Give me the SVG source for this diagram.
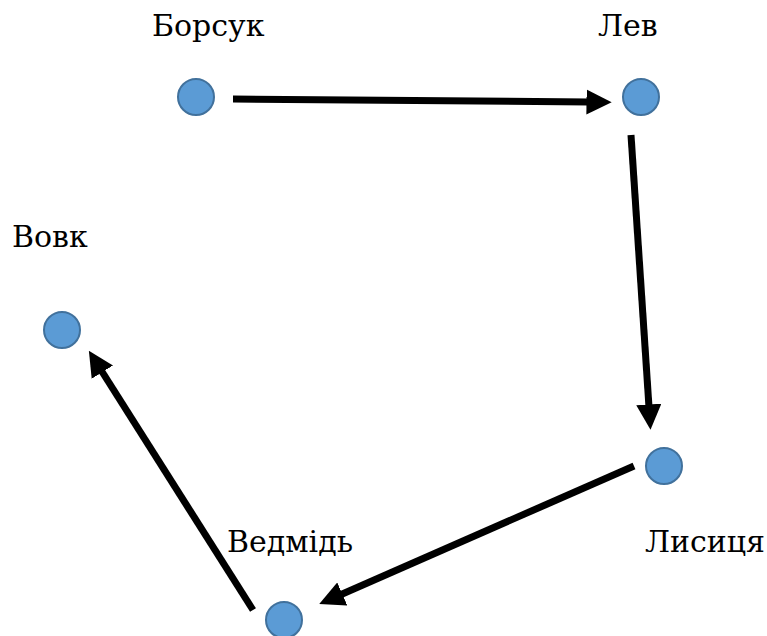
<svg xmlns="http://www.w3.org/2000/svg" width="767" height="636" viewBox="0 0 767 636">
<style>
.n{fill:#5B9BD5;stroke:#41719C;stroke-width:2}
.t{font-family:'DejaVu Serif','Liberation Serif',serif;font-size:30px;fill:#000}
.e{stroke:#000;stroke-width:7;fill:none;marker-end:url(#a)}
</style>
<defs>
<marker id="a" viewBox="0 0 10 10" refX="1" refY="5" markerWidth="3.6" markerHeight="3.6" orient="auto" markerUnits="strokeWidth">
<path d="M0,0 L10,5 L0,10 z" fill="#000"/>
</marker>
</defs>
<rect width="767" height="636" fill="#fff"/>
<g id="edges">
<line class="e" x1="233" y1="99" x2="589" y2="102"/>
<line class="e" x1="631" y1="135" x2="649" y2="407"/>
<line class="e" x1="634" y1="466" x2="340" y2="595"/>
<line class="e" x1="253" y1="610" x2="101" y2="370"/>
</g>
<g id="borsuk"><circle class="n" cx="196" cy="97" r="18"/><text class="t" x="152" y="36">Борсук</text></g>
<g id="lev"><circle class="n" cx="641" cy="97" r="18"/><text class="t" x="598" y="36">Лев</text></g>
<g id="vovk"><circle class="n" cx="62" cy="330" r="18"/><text class="t" x="12" y="247">Вовк</text></g>
<g id="lysytsia"><circle class="n" cx="664" cy="466" r="18"/><text class="t" x="645" y="552">Лисиця</text></g>
<g id="vedmid"><circle class="n" cx="284" cy="620" r="18"/><text class="t" x="227" y="552">Ведмідь</text></g>
</svg>
